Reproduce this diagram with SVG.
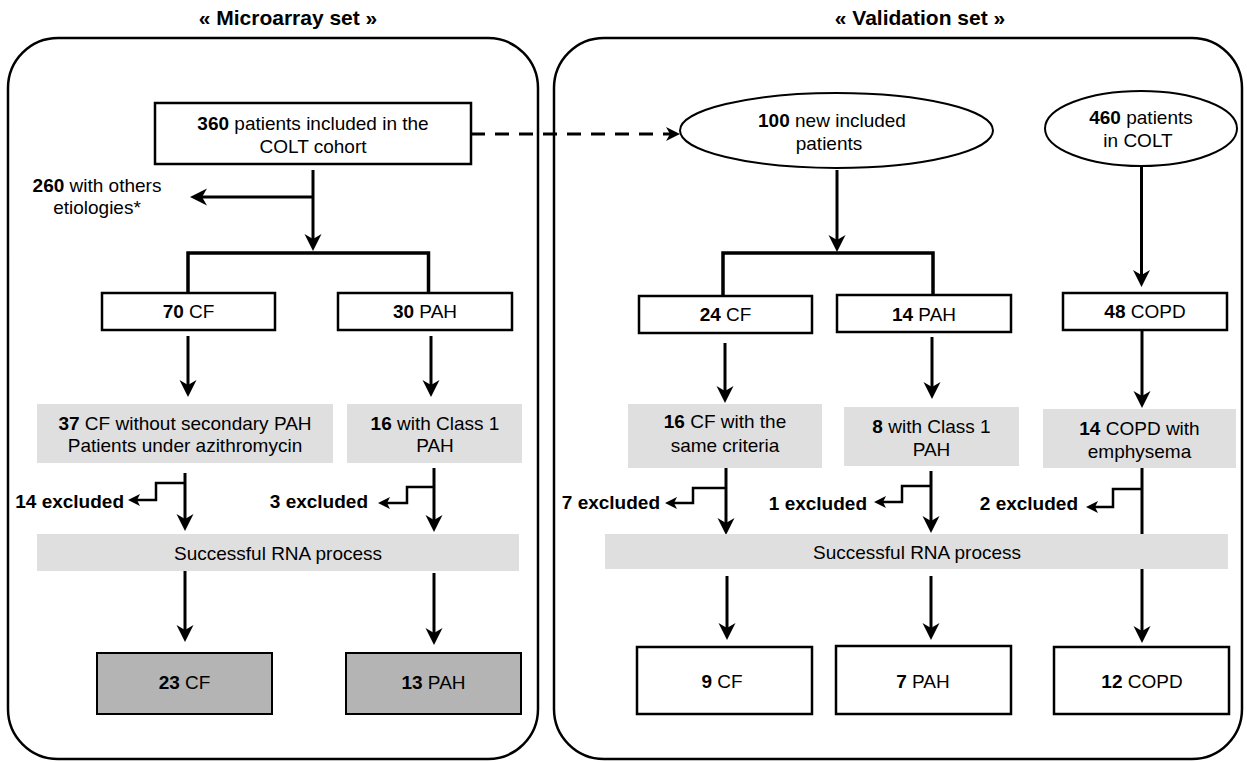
<svg xmlns="http://www.w3.org/2000/svg" width="1247" height="762" viewBox="0 0 1247 762">
<style>
text{font-family:"Liberation Sans",Arial,sans-serif;font-size:19px;fill:#000;text-anchor:middle}
.b{font-weight:bold}
.title{font-size:21px;font-weight:bold}
.ex{font-weight:bold;text-anchor:end}
.panel{fill:#fff;stroke:#000;stroke-width:2.5}
.box{fill:#fff;stroke:#000;stroke-width:2.5}
.gray{fill:#dfdfdf;stroke:none}
.dark{fill:#b4b4b4;stroke:#000;stroke-width:2}
.ell{fill:#fff;stroke:#000;stroke-width:2}
.c{fill:none;stroke:#000;stroke-width:3}
.br{fill:none;stroke:#000;stroke-width:3.5}
.cs{fill:none;stroke:#000;stroke-width:2.5}
.dash{fill:none;stroke:#000;stroke-width:3;stroke-dasharray:14 10}
.big{marker-end:url(#ab)}
.sm{marker-end:url(#as)}
</style>
<defs>
<marker id="ab" markerUnits="userSpaceOnUse" viewBox="-10 -10 22 20" markerWidth="22" markerHeight="20" refX="0" refY="0" orient="auto" overflow="visible">
<path d="M10,0 L-7,-8.5 L-2,0 L-7,8.5 Z" fill="#000"/>
</marker>
<marker id="as" markerUnits="userSpaceOnUse" viewBox="-8 -8 16 16" markerWidth="16" markerHeight="16" refX="0" refY="0" orient="auto" overflow="visible">
<path d="M7,0 L-5,-6 L-2,0 L-5,6 Z" fill="#000"/>
</marker>
<marker id="ad" markerUnits="userSpaceOnUse" viewBox="-8 -8 18 16" markerWidth="18" markerHeight="16" refX="0" refY="0" orient="auto" overflow="visible">
<path d="M10,0 L-4,-7 L0,0 L-4,7 Z" fill="#000"/>
</marker>
</defs>

<g id="panel-microarray">
<rect class="panel" x="8" y="38" width="530" height="721" rx="50"/>
<text class="title" x="288" y="25">« Microarray set »</text>
</g>
<g id="panel-validation">
<rect class="panel" x="554" y="38" width="688" height="721" rx="50"/>
<text class="title" x="920" y="25">« Validation set »</text>
</g>

<g id="connectors">
<path class="dash" d="M471,134 H670" marker-end="url(#ad)"/>
<path class="c big" d="M313,170 V241"/>
<path class="c big" d="M313,197 H200"/>
<path class="br" d="M188,293 V253 H428.5 V293"/>
<path class="c big" d="M188,336 V387"/>
<path class="c big" d="M431,336 V387"/>
<path class="c big" d="M185,473 V521"/>
<path class="cs sm" d="M185,483 H156 V500 H135"/>
<path class="c big" d="M434,468 V522"/>
<path class="cs sm" d="M434,487 H407 V503 H385"/>
<path class="c big" d="M185,571 V632"/>
<path class="c big" d="M434,573 V635"/>

<path class="c big" d="M837,170 V242"/>
<path class="br" d="M723,296 V253 H933 V297"/>
<path class="c big" d="M1141.5,166 V277"/>
<path class="c big" d="M725,343 V393"/>
<path class="c big" d="M932,337 V389"/>
<path class="c big" d="M1142,330 V398"/>
<path class="c big" d="M726,468 V525"/>
<path class="cs sm" d="M726,488 H693 V503 H672"/>
<path class="c big" d="M931,471 V523"/>
<path class="cs sm" d="M931,486 H902 V502 H881"/>
<path class="c" d="M1142,468 V534"/>
<path class="cs sm" d="M1142,489 H1113 V507 H1093"/>
<path class="c big" d="M727,576 V630"/>
<path class="c big" d="M931,576 V630"/>
<path class="c big" d="M1142,569 V633"/>
</g>

<g id="n360">
<rect class="box" x="155" y="103" width="316" height="61"/>
<text x="313" y="130"><tspan class="b">360</tspan> patients included in the</text>
<text x="313" y="153">COLT cohort</text>
</g>
<g id="n260">
<text x="97" y="192"><tspan class="b">260</tspan> with others</text>
<text x="97" y="214">etiologies*</text>
</g>
<g id="n70cf">
<rect class="box" x="102" y="293" width="173" height="37"/>
<text x="188.5" y="318"><tspan class="b">70</tspan> CF</text>
</g>
<g id="n30pah">
<rect class="box" x="338" y="293" width="174" height="37"/>
<text x="425" y="318"><tspan class="b">30</tspan> PAH</text>
</g>
<g id="n37cf">
<rect class="gray" x="37" y="404" width="296" height="59"/>
<text x="185" y="430"><tspan class="b">37</tspan> CF without secondary PAH</text>
<text x="185" y="452">Patients under azithromycin</text>
</g>
<g id="n16pah">
<rect class="gray" x="347" y="404" width="175" height="59"/>
<text x="435" y="430"><tspan class="b">16</tspan> with Class 1</text>
<text x="435" y="452">PAH</text>
</g>
<g id="n14ex">
<text class="ex" x="124" y="508">14 excluded</text>
</g>
<g id="n3ex">
<text class="ex" x="368" y="508">3 excluded</text>
</g>
<g id="nrna1">
<rect class="gray" x="37" y="534" width="482" height="37"/>
<text x="278" y="560">Successful RNA process</text>
</g>
<g id="n23cf">
<rect class="dark" x="97" y="653" width="175" height="61"/>
<text x="184.5" y="689"><tspan class="b">23</tspan> CF</text>
</g>
<g id="n13pah">
<rect class="dark" x="346" y="653" width="175" height="61"/>
<text x="433.5" y="689"><tspan class="b">13</tspan> PAH</text>
</g>

<g id="n100">
<ellipse class="ell" cx="836.5" cy="130.5" rx="156.5" ry="37.5"/>
<text x="832" y="127"><tspan class="b">100</tspan> new included</text>
<text x="829" y="150">patients</text>
</g>
<g id="n460">
<ellipse class="ell" cx="1141" cy="128.5" rx="96" ry="37.5"/>
<text x="1141" y="124"><tspan class="b">460</tspan> patients</text>
<text x="1138" y="147">in COLT</text>
</g>
<g id="n24cf">
<rect class="box" x="639" y="296" width="173" height="37"/>
<text x="725.5" y="321"><tspan class="b">24</tspan> CF</text>
</g>
<g id="n14pah">
<rect class="box" x="837" y="295" width="174" height="37"/>
<text x="924" y="321"><tspan class="b">14</tspan> PAH</text>
</g>
<g id="n48copd">
<rect class="box" x="1063" y="293" width="164" height="37"/>
<text x="1145" y="318"><tspan class="b">48</tspan> COPD</text>
</g>
<g id="n16cf">
<rect class="gray" x="628" y="404" width="194" height="64"/>
<text x="725" y="428"><tspan class="b">16</tspan> CF with the</text>
<text x="725" y="452">same criteria</text>
</g>
<g id="n8pah">
<rect class="gray" x="844" y="407" width="175" height="59"/>
<text x="931.5" y="433"><tspan class="b">8</tspan> with Class 1</text>
<text x="931.5" y="456">PAH</text>
</g>
<g id="n14copd">
<rect class="gray" x="1043" y="409" width="193" height="59"/>
<text x="1139.5" y="435"><tspan class="b">14</tspan> COPD with</text>
<text x="1139.5" y="458">emphysema</text>
</g>
<g id="n7ex">
<text class="ex" x="660" y="509">7 excluded</text>
</g>
<g id="n1ex">
<text class="ex" x="867" y="510">1 excluded</text>
</g>
<g id="n2ex">
<text class="ex" x="1078" y="510">2 excluded</text>
</g>
<g id="nrna2">
<rect class="gray" x="605" y="534" width="623" height="35"/>
<text x="917" y="559">Successful RNA process</text>
</g>
<g id="n9cf">
<rect class="box" x="637" y="647" width="175" height="67"/>
<text x="722" y="688"><tspan class="b">9</tspan> CF</text>
</g>
<g id="n7pah">
<rect class="box" x="836" y="646" width="175" height="68"/>
<text x="923" y="688"><tspan class="b">7</tspan> PAH</text>
</g>
<g id="n12copd">
<rect class="box" x="1054" y="647" width="175" height="67"/>
<text x="1142" y="688"><tspan class="b">12</tspan> COPD</text>
</g>
</svg>
